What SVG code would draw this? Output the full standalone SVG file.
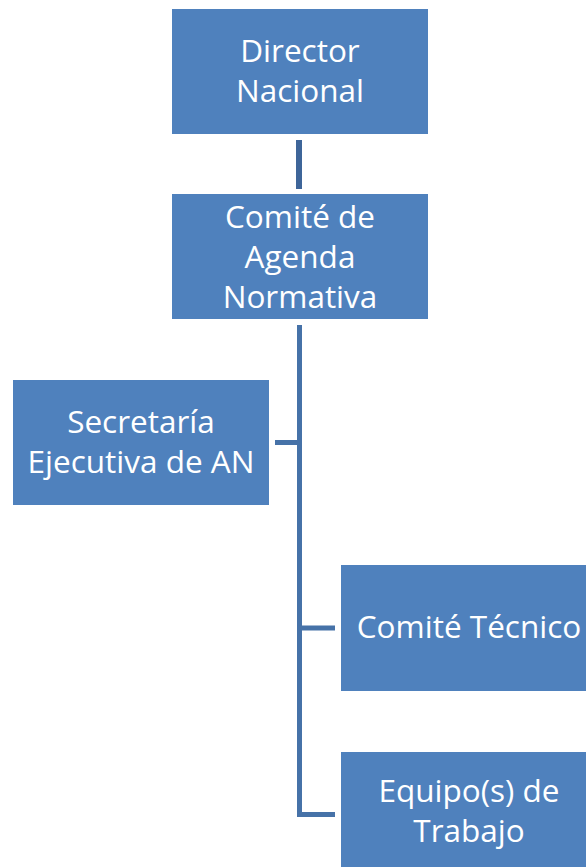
<svg xmlns="http://www.w3.org/2000/svg" width="586" height="867" viewBox="0 0 586 867">
<style>
.box{fill:#4F81BD;}
.t{font-family:"Open Sans","Liberation Sans",sans-serif;font-size:31.5px;fill:#FFFFFF;text-anchor:middle;}
.c{stroke:#4672A8;stroke-width:5;fill:none;}
.c1{stroke:#3E6599;stroke-width:6;fill:none;}
</style>
<rect width="586" height="867" fill="#FFFFFF"/>
<g id="connectors">
<line class="c1" x1="299" y1="140" x2="299" y2="189"/>
<polyline class="c" points="299.5,325 299.5,814.5 335,814.5"/>
<line class="c" x1="275" y1="442.5" x2="299.5" y2="442.5"/>
<line class="c" x1="299.5" y1="628" x2="335" y2="628"/>
</g>
<g id="director-nacional">
<rect class="box" x="172" y="9" width="256" height="125"/>
<text class="t" x="300" y="62">Director</text>
<text class="t" x="300" y="102">Nacional</text>
</g>
<g id="comite-agenda-normativa">
<rect class="box" x="172" y="194" width="256" height="125"/>
<text class="t" x="300" y="228">Comité de</text>
<text class="t" x="300" y="268">Agenda</text>
<text class="t" x="300" y="308">Normativa</text>
</g>
<g id="secretaria-ejecutiva">
<rect class="box" x="13" y="380" width="256" height="125"/>
<text class="t" x="141" y="433">Secretaría</text>
<text class="t" x="141" y="473">Ejecutiva de AN</text>
</g>
<g id="comite-tecnico">
<rect class="box" x="341" y="565" width="256" height="126"/>
<text class="t" x="469" y="638">Comité Técnico</text>
</g>
<g id="equipos-trabajo">
<rect class="box" x="341" y="752" width="256" height="125"/>
<text class="t" x="469" y="802">Equipo(s) de</text>
<text class="t" x="469" y="842">Trabajo</text>
</g>
</svg>
